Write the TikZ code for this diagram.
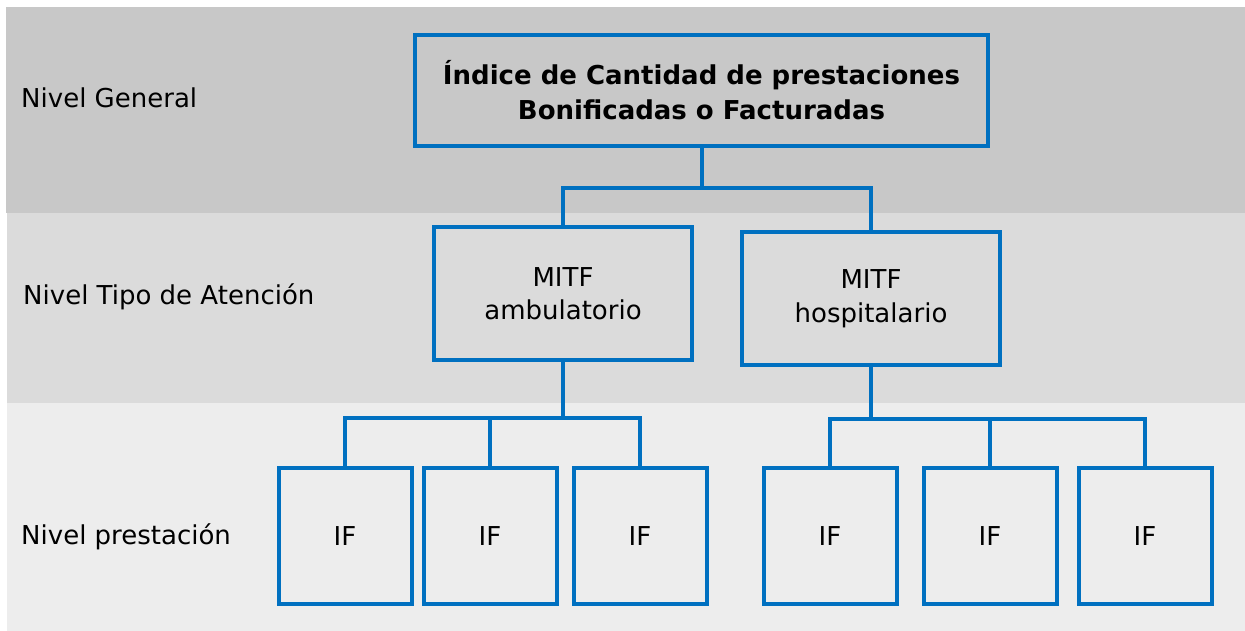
\documentclass[tikz,border=0pt]{standalone}
\usepackage{fontspec}
\setmainfont{DejaVu Sans}
\definecolor{blu}{HTML}{0070C0}
\definecolor{bandA}{HTML}{C8C8C8}
\definecolor{bandB}{HTML}{DBDBDB}
\definecolor{bandC}{HTML}{EDEDED}
\begin{document}
\begin{tikzpicture}[x=1pt,y=-1pt,
  box/.style={draw=blu,line width=4pt,inner sep=0pt,align=center,font=\fontsize{26}{33.5}\selectfont},
  ifbox/.style={box,minimum width=133pt,minimum height=136pt},
  conn/.style={draw=blu,line width=4pt},
  lbl/.style={anchor=base west,inner sep=0pt,font=\fontsize{26}{32}\selectfont}]
\useasboundingbox (0,0) rectangle (1245,631);
\fill[white] (0,0) rectangle (1245,631);
\fill[bandA] (6,7) rectangle (1245,212.7);
\fill[bandB] (7,212.7) rectangle (1245,402.7);
\fill[bandC] (7,402.7) rectangle (1245,631);

\node[lbl] (l1) at (21,108) {Nivel General};
\node[lbl] (l2) at (23,304) {Nivel Tipo de Atención};
\node[lbl] (l3) at (21,544) {Nivel prestación};

\node[box,minimum width=573pt,minimum height=111.6pt,font=\bfseries\fontsize{26}{35}\selectfont] (top) at (701.5,90.5) {Índice de Cantidad de prestaciones\\Bonificadas o Facturadas};

\node[box,minimum width=257.7pt,minimum height=133.6pt] (ma) at (563,293.5) {MITF\\ambulatorio};
\node[box,minimum width=258pt,minimum height=133.3pt] (mh) at (871,298.7) {MITF\\hospitalario};

\node[ifbox] (f1) at (345,535.7) {IF};
\node[ifbox] (f2) at (490,535.7) {IF};
\node[ifbox] (f3) at (640,535.7) {IF};
\node[ifbox] (f4) at (830,535.7) {IF};
\node[ifbox] (f5) at (990,535.7) {IF};
\node[ifbox] (f6) at (1145,535.7) {IF};

\draw[conn] (top.south) -- ++(0,39.4) coordinate (j1);
\draw[conn] (ma.north) |- (j1) -| (mh.north);

\draw[conn] (ma.south) -- ++(0,55.7) coordinate (j2);
\draw[conn] (f1.north) |- (j2) -| (f3.north);
\draw[conn] (f2.north) -- (f2.north |- j2);

\draw[conn] (mh.south) -- ++(0,51.6) coordinate (j3);
\draw[conn] (f4.north) |- (j3) -| (f6.north);
\draw[conn] (f5.north) -- (f5.north |- j3);
\end{tikzpicture}
\end{document}
